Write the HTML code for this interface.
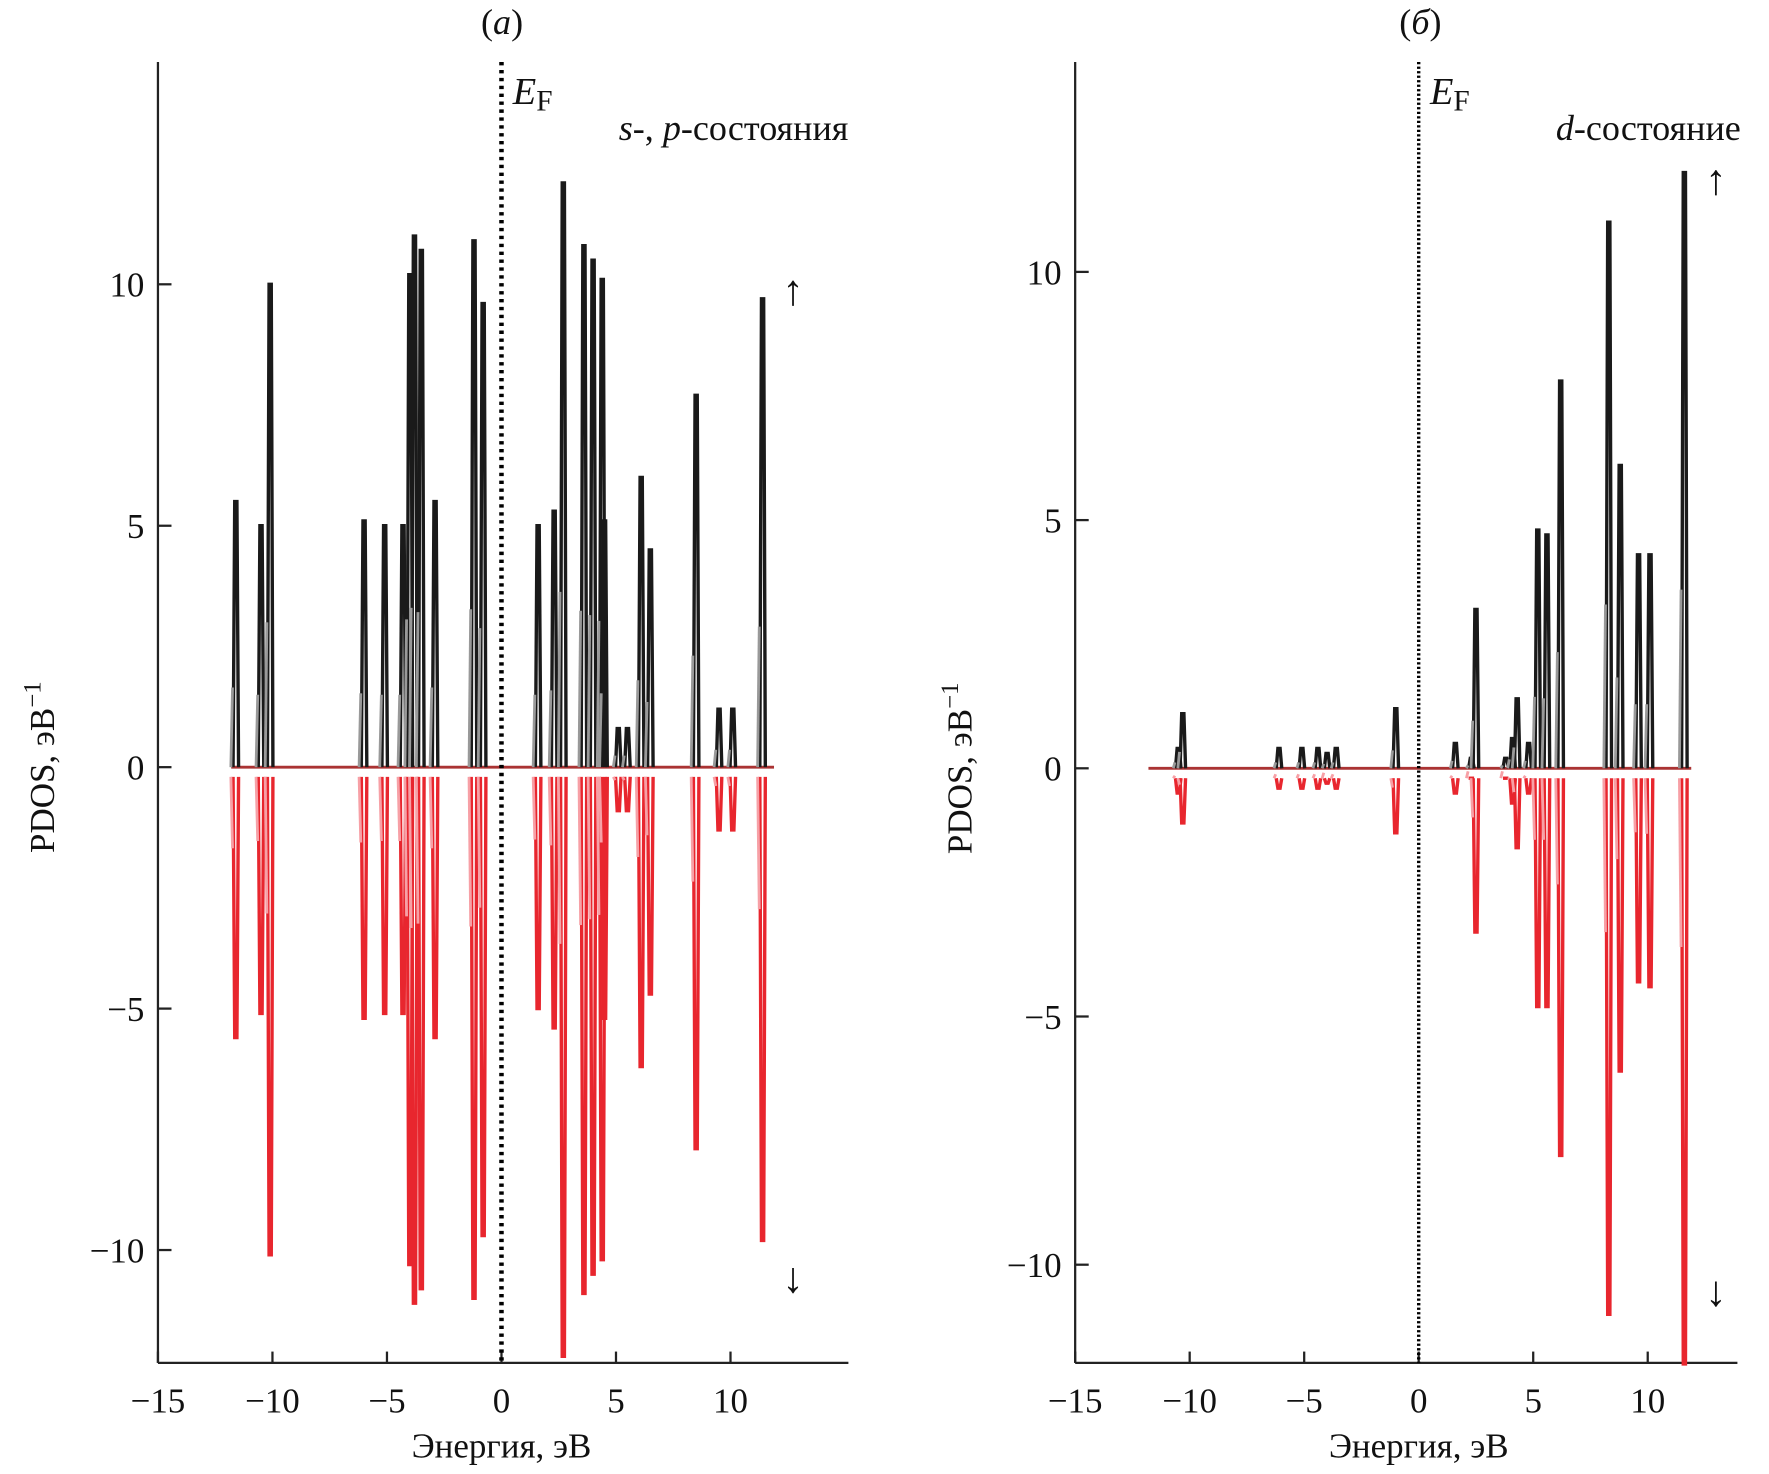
<!DOCTYPE html>
<html><head><meta charset="utf-8">
<style>
html,body{margin:0;padding:0;background:#fff;}
svg{display:block;font-family:"Liberation Serif",serif;}
</style></head>
<body>
<svg id="fig" width="1769" height="1474" viewBox="0 0 1769 1474" xmlns="http://www.w3.org/2000/svg"><g id="root" transform="scale(1.12819)"></g></svg>
<script>
// ---- Panel (a): s-, p-states ----
const aEnergies = [-11.6,-10.5,-10.1,-6.0,-5.1,-4.3,-4.0,-3.8,-3.5,-2.9,-1.2,-0.8,1.6,2.3,2.7,3.6,4.0,4.4,4.5,5.1,5.5,6.1,6.5,8.5,9.5,10.1,11.4];
const aUp =       [5.5,5.0,10.0,5.1,5.0,5.0,10.2,11.0,10.7,5.5,10.9,9.6,5.0,5.3,12.1,10.8,10.5,10.1,5.1,0.8,0.8,6.0,4.5,7.7,1.2,1.2,9.7];
const aDown =     [5.6,5.1,10.1,5.2,5.1,5.1,10.3,11.1,10.8,5.6,11.0,9.7,5.0,5.4,12.2,10.9,10.5,10.2,5.2,0.9,0.9,6.2,4.7,7.9,1.3,1.3,9.8];
// ---- Panel (b): d-states ----
const bEnergies = [-10.5,-10.3,-6.1,-5.1,-4.4,-4.0,-3.6,-1.0,1.6,2.3,2.5,3.8,4.1,4.3,4.8,5.2,5.6,6.2,8.3,8.8,9.6,10.1,11.6];
const bUp =       [0.4,1.1,0.4,0.4,0.4,0.3,0.4,1.2,0.5,0.2,3.2,0.2,0.6,1.4,0.5,4.8,4.7,7.8,11.0,6.1,4.3,4.3,12.0];
const bDown =     [0.5,1.1,0.4,0.4,0.4,0.3,0.4,1.3,0.5,0.2,3.3,0.2,0.7,1.6,0.5,4.8,4.8,7.8,11.0,6.1,4.3,4.4,12.0];
const xTicks = [-15,-10,-5,0,5,10];
const xTickLabels = ["\u221215","\u221210","\u22125","0","5","10"];
const yTicks = [-10,-5,0,5,10];
const yTickLabels = ["\u221210","\u22125","0","5","10"];

const NS="http://www.w3.org/2000/svg";
const svg=document.getElementById('root');
function mk(tag,attrs,parent){const e=document.createElementNS(NS,tag);for(const k in attrs)e.setAttribute(k,attrs[k]);(parent||svg).appendChild(e);return e;}

function panel(cfg){
  const g=mk('g',{});
  
  
  const X=e=>cfg.x0+(e-cfg.xmin)*cfg.xs;
  const Y=v=>cfg.y0-v*cfg.ys;
  const top=55,bot=1208;
  const ax=mk('line',{x1:cfg.x0,y1:top,x2:cfg.x0,y2:bot,stroke:'#222','stroke-width':2},g);
  
  const bx=mk('line',{x1:cfg.x0,y1:bot,x2:cfg.xend,y2:bot,stroke:'#222','stroke-width':2},g);
  
  xTicks.forEach((t,i)=>{
    mk('line',{x1:X(t),y1:bot,x2:X(t),y2:bot-10,stroke:'#222','stroke-width':2},g);
    const tx=mk('text',{x:X(t),y:bot+44,'font-size':31,'text-anchor':'middle',fill:'#111'},g);
    tx.textContent=xTickLabels[i];
    
  });
  yTicks.forEach((t,i)=>{
    mk('line',{x1:cfg.x0,y1:Y(t),x2:cfg.x0+12,y2:Y(t),stroke:'#222','stroke-width':2},g);
    const tx=mk('text',{x:cfg.x0-12,y:Y(t)+11,'font-size':31,'text-anchor':'end',fill:'#111'},g);
    tx.textContent=yTickLabels[i];
    
  });
  const bl=mk('line',{x1:X(-11.8),y1:Y(0),x2:X(11.9),y2:Y(0),stroke:'#a33','stroke-width':2.5},g);
  
  const w=0.12;
  cfg.E.forEach((e,i)=>{
    const u=cfg.U[i],d=cfg.D[i];
    const pu=mk('path',{d:`M${X(e-w)},${Y(0)} L${X(e-w*0.4)},${Y(u)} L${X(e+w*0.4)},${Y(u)} L${X(e+w)},${Y(0)}`,fill:'none',stroke:'#1a1a1a','stroke-width':3},g);
    
    mk('path',{d:`M${X(e-w*1.8)},${Y(0)} L${X(e-w*1.2)},${Y(u*0.3)}`,fill:'none',stroke:'#999','stroke-width':2.5},g);
    const pd=mk('path',{d:`M${X(e-w)},${Y(-0.2)} L${X(e-w*0.4)},${Y(-d)} L${X(e+w*0.4)},${Y(-d)} L${X(e+w)},${Y(-0.2)}`,fill:'none',stroke:'#e8262e','stroke-width':3},g);
    
    mk('path',{d:`M${X(e-w*1.8)},${Y(-0.2)} L${X(e-w*1.2)},${Y(-d*0.3)}`,fill:'none',stroke:'#f7a0a6','stroke-width':2.5},g);
  });
  const ef=mk('line',{x1:X(0),y1:top,x2:X(0),y2:bot,stroke:'#000','stroke-width':cfg.efw,'stroke-dasharray':cfg.efd},g);
  
  const eft=mk('text',{x:X(0)+10,y:92,'font-size':34,fill:'#111'},g);
  eft.innerHTML='<tspan font-style="italic">E</tspan><tspan font-size="26" dy="6">F</tspan>';
  
  const ti=mk('text',{x:cfg.titleX,y:30,'font-size':32,'text-anchor':'middle',fill:'#111'},g);
  ti.innerHTML=cfg.title;
  
  const st=mk('text',{x:cfg.labX,y:cfg.labY,'font-size':32,'text-anchor':'end',fill:'#111'},g);
  st.innerHTML=cfg.label;
  
  const up=mk('text',{x:cfg.arrX,y:cfg.arrUpY,'font-size':38,'text-anchor':'middle',fill:'#111'},g);
  up.textContent='\u2191';
  const dn=mk('text',{x:cfg.arrX,y:cfg.arrDnY,'font-size':38,'text-anchor':'middle',fill:'#111'},g);
  dn.textContent='\u2193';
  const xl=mk('text',{x:X(0),y:1292,'font-size':31,'text-anchor':'middle',fill:'#111'},g);
  xl.textContent='Энергия, эВ';
  const yl=mk('text',{x:0,y:0,'font-size':31,'text-anchor':'middle',fill:'#111',transform:`translate(${cfg.x0-92},${Y(0)}) rotate(-90)`},g);
  yl.innerHTML='PDOS, эВ<tspan font-size="22" dy="-12">\u22121</tspan>';
  
}

panel({name:'panel-a',x0:140,xend:752,xmin:-15,xs:20.3,y0:680,ys:42.8,E:aEnergies,U:aUp,D:aDown,
  efw:4,efd:'3 4',title:'(<tspan font-style="italic">a</tspan>)',titleX:445,
  label:'<tspan font-style="italic">s</tspan>-, <tspan font-style="italic">p</tspan>-состояния',labX:752,labY:124,arrX:703,arrUpY:270,arrDnY:1145});
panel({name:'panel-b',x0:953,xend:1540,xmin:-15,xs:20.3,y0:681,ys:44,E:bEnergies,U:bUp,D:bDown,
  efw:3,efd:'2 2',title:'(<tspan font-style="italic">б</tspan>)',titleX:1259,
  label:'<tspan font-style="italic">d</tspan>-состояние',labX:1543,labY:124,arrX:1521,arrUpY:172,arrDnY:1157});
</script>
</body></html>
